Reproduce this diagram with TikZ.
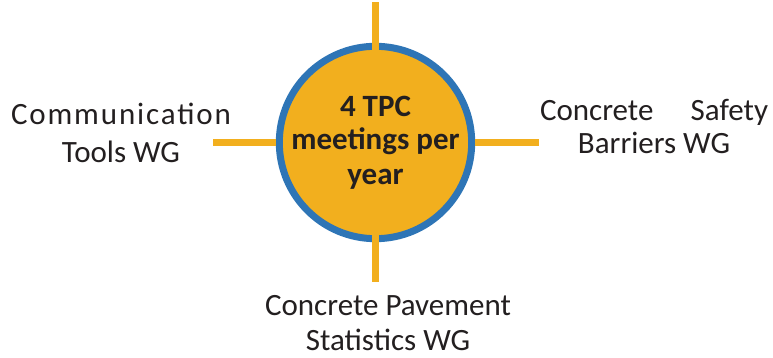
\documentclass[tikz,border=0pt]{standalone}
\usepackage{fontspec}
\setmainfont{Carlito}
\usetikzlibrary{calc}
\definecolor{tpcyellow}{HTML}{F2AF1E}
\definecolor{tpcblue}{HTML}{2E75B6}
\definecolor{tpctext}{HTML}{231F20}
\begin{document}
\begin{tikzpicture}[x=1pt,y=1pt,
    wg/.style={text=tpctext,align=center,inner sep=0pt},
    spoke/.style={draw=tpcyellow,line width=7.5pt}]
            \useasboundingbox (0,0) rectangle (773,358);

            \node[circle,draw=tpcblue,line width=7pt,fill=tpcyellow,minimum size=192pt,inner sep=0pt,
                text=tpctext,align=center,font=\fontsize{31}{35}\selectfont\bfseries] (tpc) at (375.5,215.5)
                {\raisebox{-2pt}{4 TPC}\\meetings per\\year};

            \node[wg,font=\fontsize{31}{38}\selectfont] (comm) at (121,225)
                {\addfontfeature{LetterSpace=6}Communication\\Tools WG};
            \node[wg,font=\fontsize{31}{33}\selectfont] (safety) at (654,232)
                {\makebox[228pt][s]{Concrete\hfill Safety}\\Barriers WG};
            \node[wg,font=\fontsize{31}{35}\selectfont] (pavement) at (388,35)
                {Concrete Pavement\\Statistics WG};

            \coordinate (topend) at (375.5,356);
            \coordinate (leftend) at (213,215.5);
            \coordinate (rightend) at (539,215.5);
            \coordinate (bottomend) at (375.5,76);

            \draw[spoke] ($(tpc.north)+(0,-7)$) -- (topend);
            \draw[spoke] (tpc.west) -- (leftend);
            \draw[spoke] (tpc.east) -- (rightend);
            \draw[spoke] ($(tpc.south)+(0,7)$) -- (bottomend);
        \end{tikzpicture}
\end{document}
